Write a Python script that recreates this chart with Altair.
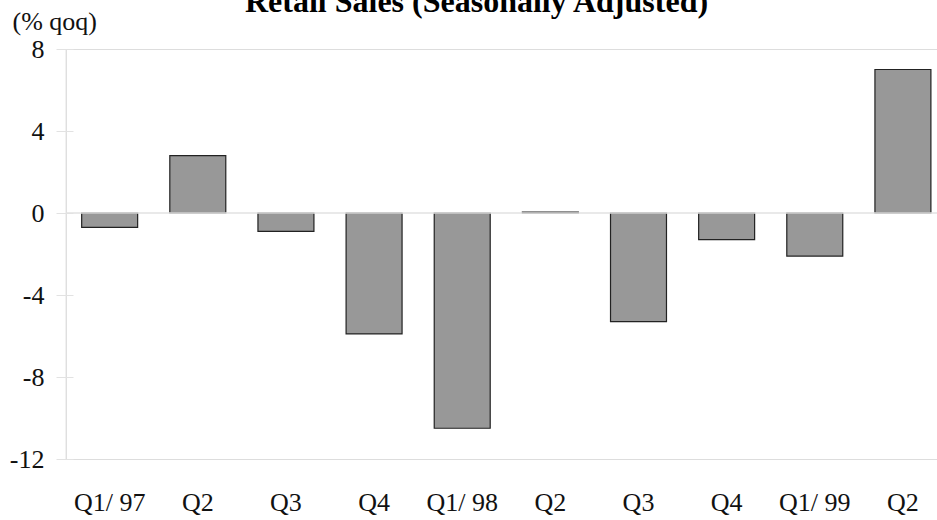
import altair as alt
import pandas as pd

# Quarterly retail sales growth, seasonally adjusted (% qoq)
quarters = ["Q1/97", "Q2/97", "Q3/97", "Q4/97", "Q1/98",
            "Q2/98", "Q3/98", "Q4/98", "Q1/99", "Q2/99"]
tick_labels = ["Q1/ 97", "Q2", "Q3", "Q4", "Q1/ 98",
               "Q2", "Q3", "Q4", "Q1/ 99", "Q2"]
growth = [-0.7, 2.8, -0.9, -5.9, -10.5, 0.05, -5.3, -1.3, -2.1, 7.0]
y_ticks = [-12, -8, -4, 0, 4, 8]

FONT = "Liberation Serif, serif"
LIGHT = "#e2e2e2"
INK = "#111111"
PLOT_W, PLOT_H = 871, 410

df = pd.DataFrame({"quarter": quarters, "growth": growth})

keys_js = "[" + ",".join(f"'{q}'" for q in quarters) + "]"
labels_js = "[" + ",".join(f"'{t}'" for t in tick_labels) + "]"
label_expr = f"{labels_js}[indexof({keys_js}, datum.value)]"

x_enc = alt.X(
    "quarter:N",
    sort=quarters,
    title=None,
    scale=alt.Scale(paddingInner=0.365, paddingOuter=0.1235, align=0.72),
    axis=alt.Axis(
        labelExpr=label_expr,
        labelAngle=0,
        ticks=False,
        tickSize=0,
        domain=False,
        labelPadding=51,
        labelBaseline="alphabetic",
        labelFont=FONT,
        labelFontSize=26,
        labelColor=INK,
    ),
)

y_enc = alt.Y(
    "growth:Q",
    scale=alt.Scale(domain=[-12, 8], nice=False, zero=False),
    axis=alt.Axis(
        values=y_ticks,
        labelExpr="'' + datum.value",
        grid=False,
        domain=False,
        tickSize=17,
        offset=-7,
        tickColor=LIGHT,
        labelPadding=12,
        labelFont=FONT,
        labelFontSize=26,
        labelColor=INK,
        title="(% qoq)",
        titleAngle=0,
        titleX=-61,
        titleY=-20,
        titleAlign="left",
        titleBaseline="alphabetic",
        titleFont=FONT,
        titleFontSize=26,
        titleFontWeight="normal",
        titleColor=INK,
    ),
)

# vertical axis line
axis_line = alt.Chart(pd.DataFrame({"a": [0]})).mark_rule(
    color=LIGHT, strokeWidth=1
).encode(x=alt.value(0), y=alt.value(0), y2=alt.value(PLOT_H))

bars = alt.Chart(df).mark_bar(
    color="#989898", stroke="#222222", strokeWidth=1.2
).encode(x=x_enc, y=y_enc)

# zero baseline drawn across the plot, above the bars
zero_line = alt.Chart(pd.DataFrame({"a": [0]})).mark_rule(
    color=LIGHT, strokeWidth=1.5
).encode(y=alt.datum(0))

chart = (
    alt.layer(axis_line, bars, zero_line)
    .properties(
        width=PLOT_W,
        height=PLOT_H,
        autosize=alt.AutoSizeParams(type="none"),
        padding={"left": 66, "top": 49, "right": 0, "bottom": 61},
        title=alt.TitleParams(
            "Retail Sales (Seasonally Adjusted)",
            font=FONT,
            fontSize=32,
            fontWeight="bold",
            color="#000000",
            anchor="middle",
            baseline="alphabetic",
            offset=0,
            dx=-25,
            dy=36,
        ),
    )
    .configure_view(stroke=None)
    .configure(background="white")
)

chart.save("out.html", embed_options={"renderer": "svg", "actions": False})
